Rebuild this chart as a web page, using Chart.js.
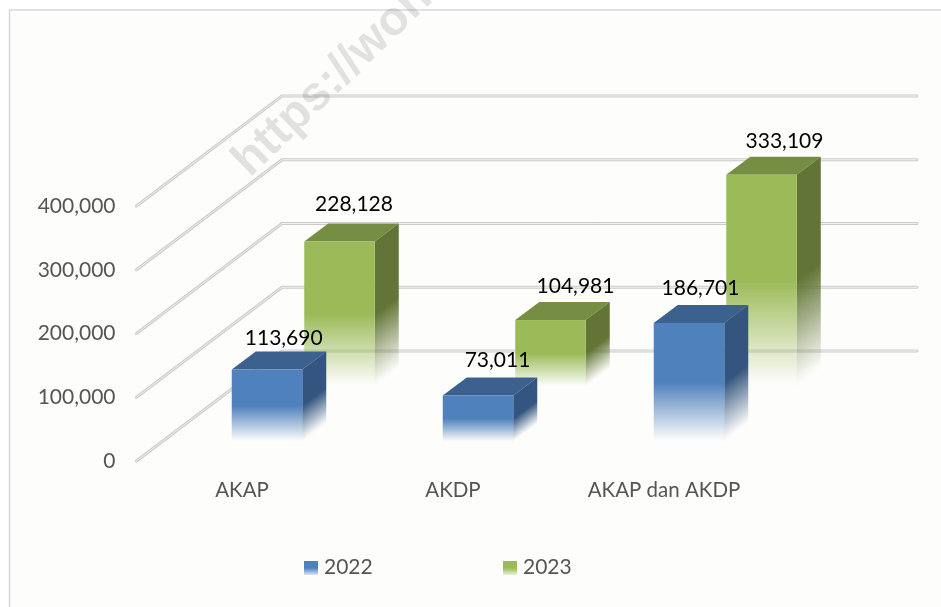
<!DOCTYPE html>
<html>
<head>
<meta charset="utf-8">
<style>html,body{margin:0;padding:0;background:#fff}canvas{display:block}</style>
<script src="https://cdn.jsdelivr.net/npm/chart.js@4"></script>
</head>
<body>
<canvas id="c" width="941" height="607"></canvas>
<script>
const categories = ['AKAP', 'AKDP', 'AKAP dan AKDP'];
const values2022 = [113690, 73011, 186701];
const values2023 = [228128, 104981, 333109];
const seriesNames = ['2022', '2023'];
const yTicks = [0, 100000, 200000, 300000, 400000];

const FONT = 'Lato, "Open Sans", sans-serif';
const WALL = {dx: 145.5, dy: -110, right: 917};
const looks = [
  {rgb: '79,129,189', top: '#3c618f', side: '#33557f', shift: {x: 25, y: -19},
   nudge: [{x: 16.7, y: -31.5}, {x: 19.5, y: -35.7}, {x: 11.5, y: -35}]},
  {rgb: '155,187,89', top: '#768e44', side: '#627536', shift: {x: 97.5, y: -74},
   nudge: [{x: 14.5, y: -37}, {x: 25, y: -33.7}, {x: 23, y: -33}]}
];
const DEPTH = {x: 24, y: -18};

function fade(ctx, y0, y1, rgb) {
  const g = ctx.createLinearGradient(0, y0, 0, y1);
  g.addColorStop(0, `rgba(${rgb},1)`);
  g.addColorStop(0.5, `rgba(${rgb},1)`);
  g.addColorStop(0.97, `rgba(${rgb},0.03)`);
  g.addColorStop(1, `rgba(${rgb},0)`);
  return g;
}

const scene = {
  id: 'scene',
  beforeDraw(chart) {
    const ctx = chart.ctx, y = chart.scales.y, a = chart.chartArea;
    ctx.save();
    ctx.fillStyle = '#fdfdfb';
    ctx.fillRect(9.5, 10, 941, 607);
    ctx.strokeStyle = '#d9d9d9';
    ctx.lineWidth = 1.5;
    ctx.strokeRect(9.5, 10, 941, 607);

    const lines = y.ticks.map(t => y.getPixelForValue(t.value));
    [['#cbcbcb', 3], ['#f2f2f2', 1]].forEach(([col, w]) => {
      ctx.strokeStyle = col; ctx.lineWidth = w; ctx.lineJoin = 'round'; ctx.lineCap = 'round';
      lines.forEach(py => {
        ctx.beginPath();
        ctx.moveTo(a.left, py);
        ctx.lineTo(a.left + WALL.dx, py + WALL.dy);
        ctx.lineTo(WALL.right, py + WALL.dy);
        ctx.stroke();
      });
    });

    ctx.translate(250, 178);
    ctx.rotate(-44 * Math.PI / 180);
    ctx.fillStyle = 'rgba(0,0,0,0.11)';
    ctx.font = 'bold 48px "Liberation Sans", sans-serif';
    ctx.textAlign = 'left';
    ctx.textBaseline = 'alphabetic';
    ctx.fillText('https://won', 0, 0);
    ctx.restore();
  },
  beforeDatasetDraw(chart, args) {
    const ctx = chart.ctx, meta = args.meta, look = looks[args.index];
    ctx.save();
    ctx.translate(look.shift.x, look.shift.y);
    meta.data.forEach(bar => {
      const l = bar.x - bar.width / 2, r = bar.x + bar.width / 2;
      const t = bar.y, b = bar.base, h = b - t;
      // top
      ctx.fillStyle = look.top;
      ctx.beginPath();
      ctx.moveTo(l, t);
      ctx.lineTo(l + DEPTH.x, t + DEPTH.y);
      ctx.lineTo(r + DEPTH.x, t + DEPTH.y);
      ctx.lineTo(r, t);
      ctx.closePath();
      ctx.fill();
      // side, sheared so that the fade runs parallel to the bottom edge
      ctx.save();
      ctx.transform(1, DEPTH.y / DEPTH.x, 0, 1, r, t);
      const sideRgb = look.side.slice(1).match(/../g).map(v => parseInt(v, 16)).join(',');
      ctx.fillStyle = fade(ctx, 0, h, sideRgb);
      ctx.fillRect(0, 0, DEPTH.x, h);
      ctx.restore();
      // front
      ctx.fillStyle = fade(ctx, t, b, look.rgb);
      ctx.fillRect(l, t, r - l, h);
    });
    ctx.restore();
    return false;
  },
  afterDatasetsDraw(chart) {
    const ctx = chart.ctx;
    ctx.save();
    ctx.font = '21px ' + FONT;
    ctx.fillStyle = '#000';
    ctx.textAlign = 'center';
    ctx.textBaseline = 'middle';
    chart.data.datasets.forEach((ds, i) => {
      chart.getDatasetMeta(i).data.forEach((bar, j) => {
        const n = looks[i].nudge[j];
        ctx.fillText(ds.data[j].toLocaleString('en-US'), bar.x + looks[i].shift.x + n.x, bar.y + looks[i].shift.y + n.y);
      });
    });
    // legend
    ctx.textAlign = 'left';
    [304, 503].forEach((x, i) => {
      const g = ctx.createLinearGradient(0, 561, 0, 575);
      g.addColorStop(0, `rgba(${looks[i].rgb},1)`);
      g.addColorStop(0.5, `rgba(${looks[i].rgb},1)`);
      g.addColorStop(1, `rgba(${looks[i].rgb},0.2)`);
      ctx.fillStyle = g;
      ctx.fillRect(x, 561, 14, 14);
      ctx.fillStyle = '#555555';
      ctx.fillText(chart.data.datasets[i].label, x + 20, 567);
    });
    ctx.restore();
  }
};

new Chart(document.getElementById('c'), {
  type: 'bar',
  data: {
    labels: categories,
    datasets: [
      {label: seriesNames[0], data: values2022, backgroundColor: 'rgb(79,129,189)'},
      {label: seriesNames[1], data: values2023, backgroundColor: 'rgb(155,187,89)'}
    ]
  },
  options: {
    responsive: false,
    animation: false,
    events: [],
    layout: {padding: {left: 0, right: 171.5, top: 206, bottom: 0}},
    datasets: {bar: {grouped: false, barThickness: 70.5}},
    plugins: {legend: {display: false}, tooltip: {enabled: false}, title: {display: false}},
    scales: {
      x: {
        grid: {display: false, drawTicks: false},
        border: {display: false},
        ticks: {color: '#555555', font: {family: FONT, size: 20.5}, padding: 17, maxRotation: 0, autoSkip: false},
        afterFit(s) { s.height = 146; }
      },
      y: {
        min: yTicks[0],
        max: yTicks[yTicks.length - 1],
        grid: {display: false, drawTicks: false},
        border: {display: false},
        afterBuildTicks(s) { s.ticks = yTicks.map(v => ({value: v})); },
        ticks: {color: '#555555', font: {family: FONT, size: 21}, padding: 21,
                callback: v => v.toLocaleString('en-US')},
        afterFit(s) { s.width = 136.5; }
      }
    }
  },
  plugins: [scene]
});
</script>
</body>
</html>
